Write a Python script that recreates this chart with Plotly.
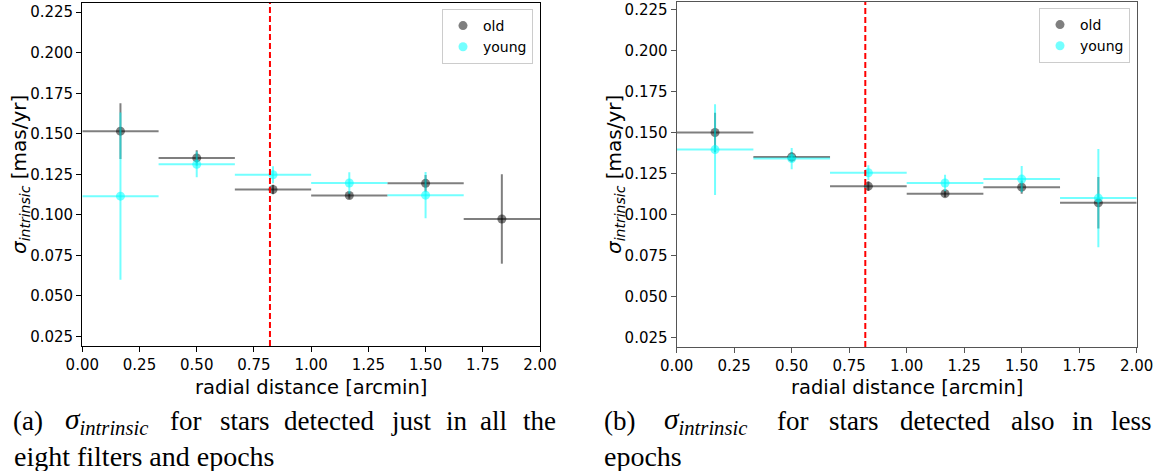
import plotly.graph_objects as go

# ---- data -------------------------------------------------------------
bin_centers = [0.1667, 0.5, 0.8333, 1.1667, 1.5, 1.8333]
bin_halfwidth = [0.1667, 0.1667, 0.1667, 0.1667, 0.1667, 0.1667]

# panel (a): stars detected in all eight filters and epochs
a_old = [0.1516, 0.1351, 0.1156, 0.1119, 0.1194, 0.0974]
a_old_err = [0.0172, 0.0047, 0.0030, 0.0020, 0.0052, 0.0276]
a_young = [0.1115, 0.1311, 0.1247, 0.1196, 0.1121]
a_young_err = [0.0516, 0.0080, 0.0052, 0.0067, 0.0143]

# panel (b): stars detected also in fewer epochs
b_old = [0.1500, 0.1351, 0.1173, 0.1127, 0.1167, 0.1071]
b_old_err = [0.0120, 0.0030, 0.0030, 0.0020, 0.0040, 0.0157]
b_young = [0.1396, 0.1341, 0.1255, 0.1192, 0.1216, 0.1100]
b_young_err = [0.0277, 0.0065, 0.0045, 0.0050, 0.0080, 0.0300]

core_radius = 0.82

y_ticks = [0.025, 0.050, 0.075, 0.100, 0.125, 0.150, 0.175, 0.200, 0.225]
x_ticks = [0.0, 0.25, 0.5, 0.75, 1.0, 1.25, 1.5, 1.75, 2.0]

captions = {
    "a": [["(a)", "<i>σ</i><sub><i>intrinsic</i></sub>", "for", "stars", "detected",
           "just", "in", "all", "the"], "eight filters and epochs"],
    "b": [["(b)", "<i>σ</i><sub><i>intrinsic</i></sub>", "for", "stars", "detected",
           "also", "in", "less"], "epochs"],
}

# ---- layout helpers ---------------------------------------------------
W, H = 1163, 471
OLD_C = "rgba(0,0,0,0.5)"
YOUNG_C = "rgba(0,255,255,0.55)"
SANS = "DejaVu Sans"
SERIF = "Liberation Serif"


def px(x):
    return x / W


def py(y):
    return 1 - y / H


fig = go.Figure()


def add_series(x, y, xe, ye, color, name, xa, ya, legend):
    fig.add_trace(go.Scatter(
        x=x[:len(y)], y=y, mode="markers", name=name,
        xaxis=xa, yaxis=ya, legend=legend,
        marker=dict(size=9, color=color, line=dict(width=0)),
        error_x=dict(type="data", array=xe[:len(y)], color=color, thickness=2, width=0),
        error_y=dict(type="data", array=ye, color=color, thickness=2, width=0),
    ))


add_series(bin_centers, a_old, bin_halfwidth, a_old_err, OLD_C, "old", "x", "y", "legend")
add_series(bin_centers, a_young, bin_halfwidth, a_young_err, YOUNG_C, "young", "x", "y", "legend")
add_series(bin_centers, b_old, bin_halfwidth, b_old_err, OLD_C, "old", "x2", "y2", "legend2")
add_series(bin_centers, b_young, bin_halfwidth, b_young_err, YOUNG_C, "young", "x2", "y2", "legend2")

for xr, yr in (("x", "y domain"), ("x2", "y2 domain")):
    fig.add_shape(type="line", xref=xr, yref=yr, x0=core_radius, x1=core_radius,
                  y0=0, y1=1, line=dict(color="red", width=2, dash="6px,3px"))


def axis_style(color):
    return dict(showline=True, mirror=True, linecolor=color, linewidth=1.3,
                ticks="outside", ticklen=5, tickwidth=1.2, tickcolor=color,
                showgrid=False, zeroline=False, automargin=False,
                tickfont=dict(family=SANS, size=15, color="black"))


fig.update_layout(
    xaxis=dict(domain=[px(82.3), px(540)], range=[0, 2], tickvals=x_ticks,
               tickformat=".2f", anchor="y", **axis_style("black")),
    yaxis=dict(domain=[py(346), py(3)], range=[0.019, 0.2307], tickvals=y_ticks,
               tickformat=".3f", anchor="x", **axis_style("black")),
    xaxis2=dict(domain=[px(676.7), px(1136.7)], range=[0, 2], tickvals=x_ticks,
                tickformat=".2f", anchor="y2", **axis_style("#555555")),
    yaxis2=dict(domain=[py(347), py(2)], range=[0.0192, 0.2296], tickvals=y_ticks,
                tickformat=".3f", anchor="x2", **axis_style("#555555")),
)

legend_style = dict(bgcolor="rgba(255,255,255,0.8)", bordercolor="#cccccc", borderwidth=1,
                    font=dict(family=SANS, size=14, color="black"),
                    xanchor="right", yanchor="top", tracegroupgap=0, itemwidth=30)
fig.update_layout(
    legend=dict(x=px(533), y=py(9), **legend_style),
    legend2=dict(x=px(1130), y=py(8), **legend_style),
)

annotations = []
# axis titles
for cx, cy_ax in ((311, 20), (906.7, 615)):
    annotations.append(dict(text="radial distance [arcmin]", x=px(cx), y=py(387),
                            xref="paper", yref="paper", showarrow=False,
                            xanchor="center", yanchor="middle",
                            font=dict(family=SANS, size=19.5, color="black")))
    annotations.append(dict(text="<i>σ</i><sub><i>intrinsic</i></sub> [mas/yr]",
                            x=px(cy_ax), y=py(175), xref="paper", yref="paper",
                            showarrow=False, textangle=-90,
                            xanchor="center", yanchor="middle",
                            font=dict(family=SANS, size=20, color="black")))

# captions below each panel, words placed to keep the first line justified
word_centers = {
    "a": [27.5, 106, 185, 245, 329, 411, 457, 493.5, 539.5],
    "b": [619.5, 705.5, 792.5, 853.5, 944.5, 1032.5, 1082.5, 1131],
}
line2_left = {"a": 12, "b": 602}
for key, (words, line2) in captions.items():
    for i, (w, cx) in enumerate(zip(words, word_centers[key])):
        size = 29.5 if i == 1 else 27
        annotations.append(dict(text=w, x=px(cx), y=py(421),
                                xref="paper", yref="paper",
                                showarrow=False, xanchor="center", yanchor="middle",
                                font=dict(family=SERIF, size=size, color="black")))
    annotations.append(dict(text=line2, x=px(line2_left[key]), y=py(456),
                            xref="paper", yref="paper", showarrow=False,
                            xanchor="left", yanchor="middle",
                            font=dict(family=SERIF, size=28, color="black")))

fig.update_layout(
    annotations=annotations,
    width=W, height=H,
    margin=dict(l=0, r=0, t=0, b=0),
    paper_bgcolor="white", plot_bgcolor="white",
    showlegend=True,
)

fig.write_html("out.html")
